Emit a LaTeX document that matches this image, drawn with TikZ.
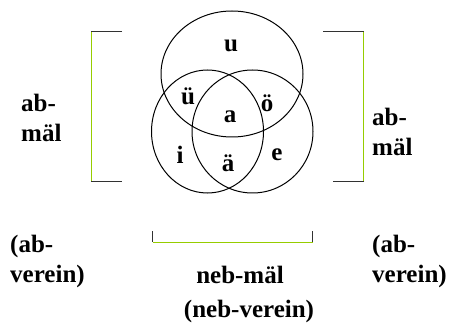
\documentclass[tikz,border=0pt]{standalone}
\usepackage{fontspec}
\setmainfont{Liberation Serif}
\usepackage{xcolor}
\definecolor{bracketgreen}{RGB}{150,205,0}
\definecolor{bracketgray}{RGB}{50,50,50}

\begin{document}
\begin{tikzpicture}[x=1pt, y=-1pt,
        lbl/.style={font=\bfseries\fontsize{25}{30}\selectfont, inner sep=0pt},
        side/.style={lbl, align=left, anchor=west},
        ring/.style={line width=1pt},
        edge/.style={bracketgray, line width=1pt},
        greenedge/.style={bracketgreen, line width=1.5pt}]

        \useasboundingbox (0,0) rectangle (455,331);

        % Circles
        \draw[ring] (232,74) ellipse [x radius=71pt, y radius=63pt];
        \draw[ring] (207.5,131.5) ellipse [x radius=56pt, y radius=61.5pt];
        \draw[ring] (252.5,131.5) ellipse [x radius=60.5pt, y radius=61.5pt];

        % Letters in the circles
        \node[lbl] (u) at (231,46) {u};
        \node[lbl] (ue) at (188,96) {ü};
        \node[lbl] (oe) at (267,103) {ö};
        \node[lbl] (a) at (230,117) {a};
        \node[lbl] (i) at (180,155) {i};
        \node[lbl] (ae) at (228,163) {ä};
        \node[lbl] (e) at (277,155) {e};

        % Left bracket
        \draw[greenedge] (91.5,31.5) -- (91.5,181.5);
        \draw[edge] (122,31.5) -- (91,31.5);
        \draw[edge] (91,181.5) -- (122,181.5);

        % Right bracket
        \draw[greenedge] (363.5,31.5) -- (363.5,181.5);
        \draw[edge] (323,31.5) -- (364,31.5);
        \draw[edge] (364,181.5) -- (333,181.5);

        % Bottom bracket
        \draw[greenedge] (152.5,242.5) -- (312.5,242.5);
        \draw[edge] (152.5,231) -- (152.5,242);
        \draw[edge] (312.5,231) -- (312.5,242);

        % Side labels
        \node[side] (leftmael) at (21,118) {ab-\\mäl};
        \node[side] (rightmael) at (372,132) {ab-\\mäl};
        \node[side] (leftverein) at (10,261) {(ab-\\verein)};
        \node[side] (rightverein) at (372,261) {(ab-\\verein)};

        % Bottom labels
        \node[lbl] (nebmael) at (240,275) {neb-mäl};
        \node[lbl] (nebverein) at (249,311) {(neb-verein)};

    \end{tikzpicture}
\end{document}
